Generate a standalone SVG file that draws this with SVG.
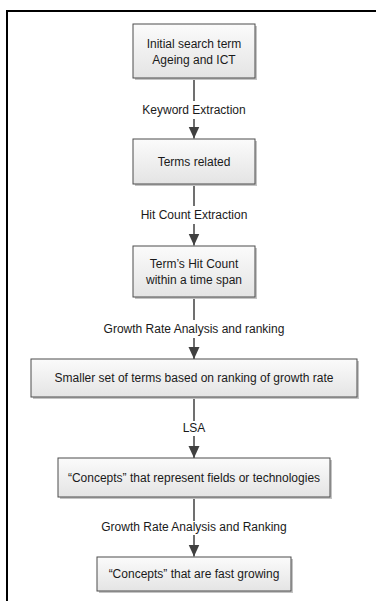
<svg xmlns="http://www.w3.org/2000/svg" width="376" height="601" viewBox="0 0 376 601">
<style>
.box{fill:url(#g);stroke:#4d4d4d;stroke-width:1}
.sh{fill:#c4c4c4}
.t{font-family:"Liberation Sans",Arial,sans-serif;font-size:12px;fill:#1a1a1a;text-anchor:middle;dominant-baseline:central}
.c{stroke:#404040;stroke-width:1.5;fill:none}
</style>
<defs>
<linearGradient id="g" x1="0" y1="0" x2="0" y2="1">
<stop offset="0" stop-color="#fbfbfb"/>
<stop offset="1" stop-color="#e4e4e4"/>
</linearGradient>
<marker id="ah" markerWidth="12" markerHeight="12" viewBox="0 0 12 12" refX="12" refY="6" orient="auto" markerUnits="userSpaceOnUse">
<path d="M0,0.5 L12,6 L0,11.5 Z" fill="#404040"/>
</marker>
</defs>
<rect width="376" height="601" fill="#ffffff"/>
<path d="M7,601 V11 H376" stroke="#000" stroke-width="2" fill="none"/>
<g id="connectors">
<path class="c" d="M194,78 V101"/><path class="c" d="M194,119 V138.5" marker-end="url(#ah)"/>
<path class="c" d="M194,184 V206"/><path class="c" d="M194,224 V245.5" marker-end="url(#ah)"/>
<path class="c" d="M194,297 V320"/><path class="c" d="M194,338 V359" marker-end="url(#ah)"/>
<path class="c" d="M194,397 V421"/><path class="c" d="M194,436 V458" marker-end="url(#ah)"/>
<path class="c" d="M194,497 V521"/><path class="c" d="M194,535 V556.5" marker-end="url(#ah)"/>
<text class="t" x="194" y="110">Keyword Extraction</text>
<text class="t" x="194" y="215">Hit Count Extraction</text>
<text class="t" x="194" y="329">Growth Rate Analysis and ranking</text>
<text class="t" x="194" y="428">LSA</text>
<text class="t" x="194" y="527">Growth Rate Analysis and Ranking</text>
</g>
<g id="n1"><rect class="sh" x="135" y="26" width="122" height="54"/><rect class="box" x="133" y="24" width="122" height="54"/>
<text class="t" x="194" y="43.5">Initial search term</text><text class="t" x="194" y="59.5">Ageing and ICT</text></g>
<g id="n2"><rect class="sh" x="135" y="141" width="122" height="45"/><rect class="box" x="133" y="139" width="122" height="45"/>
<text class="t" x="194" y="161.5">Terms related</text></g>
<g id="n3"><rect class="sh" x="135" y="248" width="122" height="51"/><rect class="box" x="133" y="246" width="122" height="51"/>
<text class="t" x="194" y="264">Term’s Hit Count</text><text class="t" x="194" y="280">within a time span</text></g>
<g id="n4"><rect class="sh" x="33" y="361" width="326" height="38"/><rect class="box" x="31" y="359" width="326" height="38"/>
<text class="t" x="194" y="378">Smaller set of terms based on ranking of growth rate</text></g>
<g id="n5"><rect class="sh" x="60" y="460" width="272" height="39"/><rect class="box" x="58" y="458" width="272" height="39"/>
<text class="t" x="194" y="477.5">“Concepts” that represent fields or technologies</text></g>
<g id="n6"><rect class="sh" x="99" y="559" width="194" height="34"/><rect class="box" x="97" y="557" width="194" height="34"/>
<text class="t" x="194" y="574">“Concepts” that are fast growing</text></g>
</svg>
